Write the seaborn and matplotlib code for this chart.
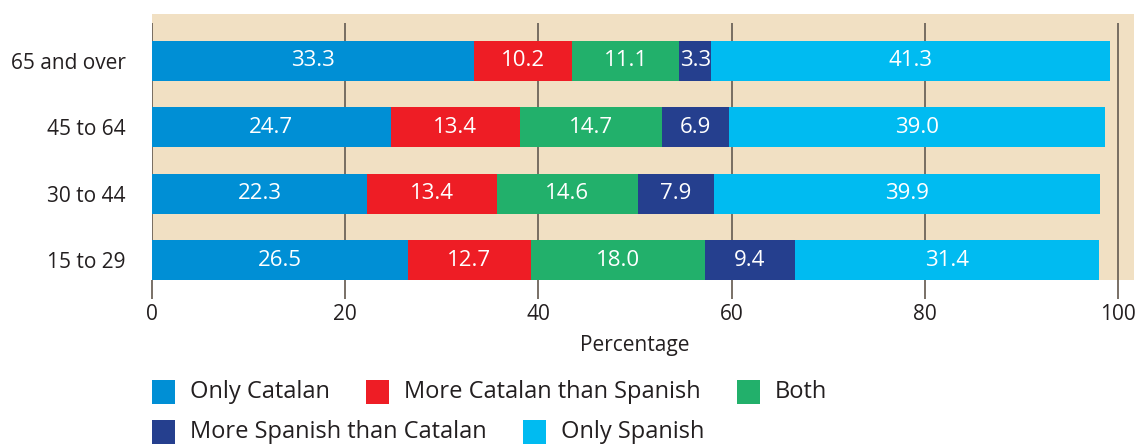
import numpy as np
import pandas as pd
import matplotlib
matplotlib.use('Agg')
import matplotlib.pyplot as plt
import seaborn as sns
from matplotlib.patches import Rectangle

# data
ages = ['65 and over', '45 to 64', '30 to 44', '15 to 29']
groups = ['Only Catalan', 'More Catalan than Spanish', 'Both',
          'More Spanish than Catalan', 'Only Spanish']
only_catalan = [33.3, 24.7, 22.3, 26.5]
more_catalan = [10.2, 13.4, 13.4, 12.7]
both = [11.1, 14.7, 14.6, 18.0]
more_spanish = [3.3, 6.9, 7.9, 9.4]
only_spanish = [41.3, 39.0, 39.9, 31.4]
xticks = [0, 20, 40, 60, 80, 100]

colors = ['#008fd5', '#ee1d25', '#22b06b', '#253f8e', '#00bbf1']
beige = '#f1e0c3'
grid_c = '#6e655a'
text_c = '#231f20'

df = pd.DataFrame({'age': ages,
                   groups[0]: only_catalan,
                   groups[1]: more_catalan,
                   groups[2]: both,
                   groups[3]: more_spanish,
                   groups[4]: only_spanish})
cum = df[groups].cumsum(axis=1)
cum['age'] = df['age']

sns.set_theme(style='white')
plt.rcParams['font.family'] = ['Open Sans', 'DejaVu Sans']

W, H = 1138, 445
fig = plt.figure(figsize=(W / 100, H / 100), dpi=100)
ax = fig.add_axes([152 / W, 1 - 280 / H, (1134 - 152) / W, (280 - 14) / H])
ax.set_facecolor(beige)

# stacked bars: draw cumulative totals from the last group back
for g, c in zip(groups[::-1], colors[::-1]):
    sns.barplot(data=cum, x=g, y='age', order=ages, color=c, saturation=1,
                width=0.6, orient='h', linewidth=0, errorbar=None, ax=ax,
                zorder=2)

for g in groups:
    centers = cum[g] - df[g] / 2
    for i, (cx, v) in enumerate(zip(centers, df[g])):
        ax.text(cx, i, '%.1f' % v, ha='center', va='center', color='white',
                fontsize=16, zorder=3)

ax.set_xlim(0, 101.66)
ax.set_ylim(3.3, -0.7)
ax.vlines(xticks, 3.3, -0.57, color=grid_c, lw=1.3, zorder=1)

for s in ax.spines.values():
    s.set_visible(False)
ax.set_xticks(xticks)
ax.tick_params(axis='x', bottom=True, length=14, width=1.3, color=grid_c,
               pad=3, labelsize=15, labelcolor=text_c)
ax.tick_params(axis='y', left=False, length=0, pad=19, labelsize=15,
               labelcolor=text_c)
ax.set_ylabel('')
ax.set_xlabel('Percentage', fontsize=15, color=text_c)
ax.xaxis.set_label_coords(50 / 101.66, -0.205)

# legend, laid out as a flowing row that wraps
fig.canvas.draw()
r = fig.canvas.get_renderer()
x, yc = 152, 392
for g, c in zip(groups, colors):
    t = fig.text(0, 0, g, fontsize=17, color=text_c, va='center')
    w = t.get_window_extent(r).width
    if x + 38 + w > W:
        x, yc = 152, yc + 40
    fig.add_artist(Rectangle((x / W, 1 - (yc + 12) / H), 23 / W, 24 / H,
                             transform=fig.transFigure, color=c, lw=0))
    t.set_position(((x + 38) / W, 1 - yc / H))
    x += 38 + w + 36

fig.savefig('out.png', dpi=100)
